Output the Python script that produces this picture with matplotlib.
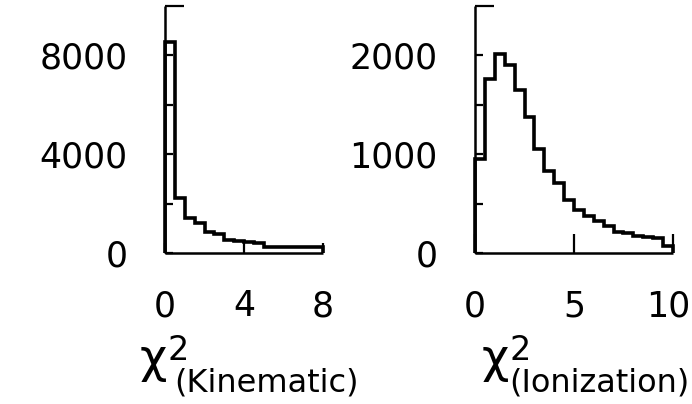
import matplotlib
matplotlib.use("Agg")
import matplotlib.pyplot as plt
from matplotlib.ticker import FixedLocator, FixedFormatter

# Kinematic chi-square histogram (variable-width bins)
kin_edges = [0, 0.5, 1.0, 1.5, 2.0, 2.5, 3.0, 3.5, 4.0, 4.5, 5.0, 8.0]
kin_counts = [8550, 2230, 1420, 1240, 870, 800, 520, 500, 440, 410, 270]

# Ionization chi-square histogram (0.5-wide bins)
ion_edges = [0, 0.5, 1.0, 1.5, 2.0, 2.5, 3.0, 3.5, 4.0, 4.5, 5.0,
             5.5, 6.0, 6.5, 7.0, 7.5, 8.0, 8.5, 9.0, 9.5, 10.0]
ion_counts = [950, 1760, 2010, 1900, 1650, 1380, 1050, 830, 710, 540,
              440, 380, 325, 275, 220, 205, 170, 165, 155, 75]

kin_yticks = [0, 2000, 4000, 6000, 8000]
kin_ylabels = ["0", "", "4000", "", "8000"]
kin_xticks = [0, 4, 8]
kin_xlabels = ["0", "4", "8"]

ion_yticks = [0, 500, 1000, 1500, 2000]
ion_ylabels = ["0", "", "1000", "", "2000"]
ion_xticks = [0, 5, 10]
ion_xlabels = ["0", "5", "10"]

kin_subscript = "(Kinematic)"
ion_subscript = "(Ionization)"

W, H = 692, 404
fig = plt.figure(figsize=(W / 100, H / 100), dpi=100)

y0 = 1 - 253.3 / H
hgt = (253.3 - 6) / H
ax1 = fig.add_axes([165 / W, y0, (323 - 165) / W, hgt])
ax2 = fig.add_axes([475 / W, y0, (673 - 475) / W, hgt])

TICK_SIZE = 25
XPAD = 26


def style(ax, edges, counts, xlim, ylim, xt, xl, yt, yl, xtick_len):
    ax.stairs(counts, edges, color="black", linewidth=2.6, clip_on=False,
              baseline=0)
    ax.set_xlim(*xlim)
    ax.set_ylim(*ylim)
    for s in ("top", "right"):
        ax.spines[s].set_visible(False)
    for s in ("left", "bottom"):
        ax.spines[s].set_linewidth(1.8)
        ax.spines[s].set_capstyle("butt")
    ax.yaxis.set_major_locator(FixedLocator(yt))
    ax.yaxis.set_major_formatter(FixedFormatter(yl))
    ax.yaxis.set_minor_locator(FixedLocator([ylim[1]]))
    ax.xaxis.set_major_locator(FixedLocator(xt))
    ax.xaxis.set_major_formatter(FixedFormatter(xl))
    ax.tick_params(axis="y", which="major", direction="in", length=6,
                   width=1.6, pad=27, labelsize=TICK_SIZE)
    ax.tick_params(axis="y", which="minor", direction="in", length=14,
                   width=1.6)
    ax.tick_params(axis="x", which="major", direction="in", length=xtick_len,
                   width=1.6, pad=XPAD, labelsize=TICK_SIZE)


style(ax1, kin_edges, kin_counts, (0, 8), (0, 10000), kin_xticks, kin_xlabels,
      kin_yticks, kin_ylabels, 7)
style(ax2, ion_edges, ion_counts, (0, 10), (0, 2500), ion_xticks,
      ion_xlabels[:-1] + [""], ion_yticks, ion_ylabels, 14)

# the rightmost tick label sits against the figure edge; nudge it inward
ax2.annotate(ion_xlabels[-1], xy=(ion_xticks[-1], 0),
             xycoords=("data", "axes fraction"),
             xytext=(-5, -XPAD * 100 / 72), textcoords="offset pixels",
             ha="center", va="top", fontsize=TICK_SIZE)


def fpos(px, py):
    return px / W, 1 - py / H


def axis_title(x_chi, x_two, x_sub, subscript):
    # chi symbol, large superscript 2 and a lowered parenthetical subscript
    fig.text(*fpos(x_chi, 372), "\u03c7", fontsize=34, ha="left",
             va="baseline")
    fig.text(*fpos(x_two, 360), "2", fontsize=24, ha="left", va="baseline")
    fig.text(*fpos(x_sub, 391), subscript, fontsize=23, ha="left",
             va="baseline")


axis_title(140, 168, 174, kin_subscript)
axis_title(482, 510, 509, ion_subscript)

fig.savefig("out.png", dpi=100, facecolor="white")
